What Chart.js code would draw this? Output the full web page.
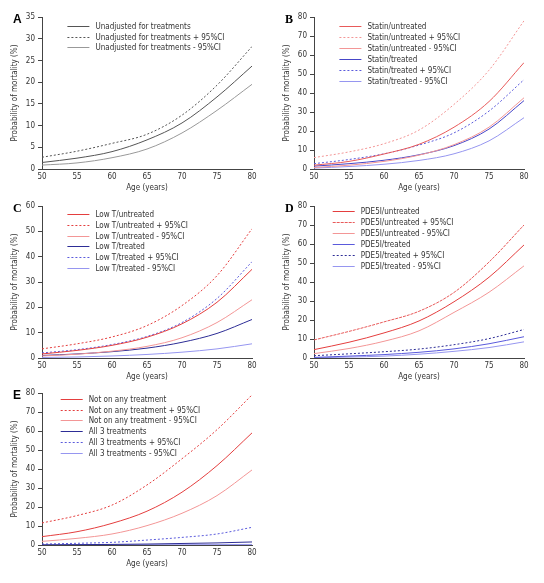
<!DOCTYPE html>
<html>
<head>
<meta charset="utf-8">
<script src="https://cdn.jsdelivr.net/npm/chart.js@4.4.0/dist/chart.umd.min.js"></script>
<style>
body { margin: 0; background: #fff; width: 544px; height: 583px; position: relative; overflow: hidden; }
canvas { position: absolute; }
</style>
</head>
<body>
<canvas id="chartA" width="272" height="195" style="left:0;top:0"></canvas>
<canvas id="chartB" width="272" height="195" style="left:272px;top:0"></canvas>
<canvas id="chartC" width="272" height="195" style="left:0;top:189px"></canvas>
<canvas id="chartD" width="272" height="195" style="left:272px;top:189px"></canvas>
<canvas id="chartE" width="272" height="195" style="left:0;top:376px"></canvas>
<script>
// ages on the x axis
const ages = [50, 55, 60, 65, 70, 75, 80]

// A - unadjusted
const aMain = [1.5, 2.5, 4.0, 6.7, 10.6, 16.6, 23.7]
const aUpper = [2.7, 4.1, 5.9, 8.0, 12.4, 19.3, 28.2]
const aLower = [0.9, 1.4, 2.6, 4.6, 8.3, 13.5, 19.5]

// B - statin
const bUntreated = [2.0, 4.0, 7.9, 13.0, 22.0, 35.5, 56]
const bUntreatedUp = [6.0, 9.0, 13.3, 20.5, 34.0, 52.0, 78]
const bUntreatedLo = [0.8, 2.0, 4.0, 7.3, 12.8, 22.0, 37.5]
const bTreated = [1.5, 2.8, 4.6, 7.5, 12.3, 21.0, 36]
const bTreatedUp = [2.8, 5.0, 8.0, 12.6, 19.0, 30.5, 47]
const bTreatedLo = [0.5, 1.3, 2.5, 4.5, 8.0, 14.8, 27]

// C - low T
const cUntreated = [1.6, 3.0, 5.0, 8.2, 13.5, 22.0, 35]
const cUntreatedUp = [3.6, 5.6, 8.3, 12.8, 20.7, 32.5, 51]
const cUntreatedLo = [0.8, 1.5, 2.7, 4.6, 8.0, 14.0, 23]
const cTreated = [1.0, 1.6, 2.5, 3.9, 6.2, 9.7, 15.2]
const cTreatedUp = [2.0, 3.3, 5.3, 8.5, 14.0, 23.5, 38]
const cTreatedLo = [0.2, 0.4, 0.8, 1.4, 2.3, 3.6, 5.6]

// D - PDE5I
const dUntreated = [4.4, 8.3, 13.2, 19.5, 29.6, 42.5, 59.5]
const dUntreatedUp = [9.5, 14.0, 19.0, 24.6, 34.5, 50.5, 70]
const dUntreatedLo = [2.3, 5.0, 8.8, 14.3, 24.0, 34.6, 48.5]
const dTreated = [0.3, 1.0, 1.8, 3.0, 4.8, 7.5, 11.2]
const dTreatedUp = [1.2, 2.2, 3.3, 4.7, 7.0, 10.2, 15]
const dTreatedLo = [0.1, 0.5, 1.0, 2.0, 3.5, 5.5, 8.5]

// E - none vs all 3
const eNone = [4.4, 7.0, 11.4, 17.8, 27.8, 41.8, 59]
const eNoneUp = [11.6, 15.5, 21.0, 31.6, 45.4, 60.7, 79]
const eNoneLo = [1.9, 3.5, 5.8, 10.2, 16.7, 26.0, 39.5]
const eAll = [0.1, 0.2, 0.3, 0.5, 0.8, 1.1, 1.6]
const eAllUp = [0.5, 0.9, 1.4, 2.6, 4.0, 5.8, 9.3]
const eAllLo = [0.0, 0.0, 0.05, 0.1, 0.15, 0.2, 0.3]

const FONT = '"DejaVu Sans Condensed", "DejaVu Sans", sans-serif'
const FONT_PX = 8
const DOT = [2, 2]

const RED = "rgb(228,62,62)"
const RED_L = "rgb(243,150,150)"
const RED_D = "rgb(232,90,90)"
const NAVY = "rgb(45,45,150)"
const BLUE = "rgb(90,90,220)"
const BLUE_L = "rgb(150,150,240)"

function serie(label, values, color, dash) {
    return {
        label: label,
        data: values.map((v, i) => ({ x: ages[i], y: v })),
        borderColor: color,
        borderWidth: 1,
        borderDash: dash || [],
        pointRadius: 0,
        fill: false,
        cubicInterpolationMode: "monotone"
    }
}

///LEYENDA DENTRO DEL GRAFICO + LETRA DEL PANEL
const insetLegend = {
    id: "insetLegend",
    afterDraw(chart, args, opts) {
        const ctx = chart.ctx
        const area = chart.chartArea
        ctx.save()
        ctx.font = FONT_PX + "px " + FONT
        ctx.textBaseline = "middle"
        ctx.textAlign = "left"
        chart.data.datasets.forEach((ds, i) => {
            const y = Math.round(area.top + opts.top + i * opts.gap)
            const x = area.left + opts.left
            ctx.strokeStyle = ds.borderColor
            ctx.lineWidth = 1
            ctx.setLineDash(ds.borderDash || [])
            ctx.beginPath()
            ctx.moveTo(x, y + 0.5)
            ctx.lineTo(x + 22, y + 0.5)
            ctx.stroke()
            ctx.setLineDash([])
            ctx.fillStyle = "#333"
            ctx.fillText(ds.label, x + 28, y + 0.5)
        })
        ctx.font = "bold 12px " + opts.letterFont
        ctx.fillStyle = "#000"
        ctx.fillText(opts.letter, area.left - 29, area.top + 3)
        ctx.restore()
    }
}

function makeChart(id, letter, letterFont, ymax, ystep, datasets, legend) {
    const tickFont = { family: FONT, size: FONT_PX }
    return new Chart(document.getElementById(id), {
        type: "line",
        data: { datasets: datasets },
        options: {
            responsive: false,
            animation: false,
            devicePixelRatio: 1,
            layout: { padding: { top: 17, right: 20, left: 0, bottom: 0 } },
            plugins: {
                legend: { display: false },
                tooltip: { enabled: false },
                insetLegend: Object.assign({ letter: letter, letterFont: letterFont }, legend)
            },
            scales: {
                x: {
                    type: "linear",
                    min: 50, max: 80,
                    ticks: { stepSize: 5, font: tickFont, color: "#333", padding: 3, maxRotation: 0 },
                    grid: { display: false, drawTicks: false },
                    border: { display: true, color: "#444" },
                    title: { display: true, text: "Age (years)", font: tickFont, color: "#333", padding: { top: 1, bottom: 2 } },
                    afterFit: (s) => { s.height = 26 }
                },
                y: {
                    min: 0, max: ymax,
                    ticks: { stepSize: ystep, font: tickFont, color: "#333", padding: 3 },
                    grid: { display: true, drawOnChartArea: false, drawTicks: true, tickLength: 4, color: "#444" },
                    border: { display: true, color: "#444" },
                    title: { display: true, text: "Probability of mortality (%)", font: tickFont, color: "#333", padding: { top: 10, bottom: 0 } },
                    afterFit: (s) => { s.width = 42 }
                }
            }
        },
        plugins: [insetLegend]
    })
}

const SANS = "Liberation Sans, Arial, sans-serif"
const SERIF = "Liberation Serif, Times New Roman, serif"

makeChart("chartA", "A", SANS, 35, 5, [
    serie("Unadjusted for treatments", aMain, "#555"),
    serie("Unadjusted for treatments + 95%CI", aUpper, "#555", DOT),
    serie("Unadjusted for treatments - 95%CI", aLower, "#999")
], { left: 25.4, top: 9, gap: 10.7 })

makeChart("chartB", "B", SERIF, 80, 10, [
    serie("Statin/untreated", bUntreated, RED_D),
    serie("Statin/untreated + 95%CI", bUntreatedUp, RED_L, DOT),
    serie("Statin/untreated - 95%CI", bUntreatedLo, RED_L),
    serie("Statin/treated", bTreated, "rgb(70,70,200)"),
    serie("Statin/treated + 95%CI", bTreatedUp, BLUE, DOT),
    serie("Statin/treated - 95%CI", bTreatedLo, BLUE_L)
], { left: 25.4, top: 9, gap: 10.9 })

makeChart("chartC", "C", SERIF, 60, 10, [
    serie("Low T/untreated", cUntreated, RED),
    serie("Low T/untreated + 95%CI", cUntreatedUp, RED, DOT),
    serie("Low T/untreated - 95%CI", cUntreatedLo, RED_L),
    serie("Low T/treated", cTreated, NAVY),
    serie("Low T/treated + 95%CI", cTreatedUp, BLUE, DOT),
    serie("Low T/treated - 95%CI", cTreatedLo, BLUE_L)
], { left: 25.4, top: 7.7, gap: 10.9 })

makeChart("chartD", "D", SERIF, 80, 10, [
    serie("PDE5I/untreated", dUntreated, RED),
    serie("PDE5I/untreated + 95%CI", dUntreatedUp, RED_D, [3, 1]),
    serie("PDE5I/untreated - 95%CI", dUntreatedLo, RED_L),
    serie("PDE5I/treated", dTreated, BLUE),
    serie("PDE5I/treated + 95%CI", dTreatedUp, NAVY, DOT),
    serie("PDE5I/treated - 95%CI", dTreatedLo, BLUE_L)
], { left: 18.7, top: 5, gap: 10.9 })

makeChart("chartE", "E", SANS, 80, 10, [
    serie("Not on any treatment", eNone, RED),
    serie("Not on any treatment + 95%CI", eNoneUp, RED, DOT),
    serie("Not on any treatment - 95%CI", eNoneLo, RED_L),
    serie("All 3 treatments", eAll, NAVY),
    serie("All 3 treatments + 95%CI", eAllUp, BLUE, DOT),
    serie("All 3 treatments - 95%CI", eAllLo, BLUE_L)
], { left: 18.7, top: 5.7, gap: 10.8 })
</script>
</body>
</html>
